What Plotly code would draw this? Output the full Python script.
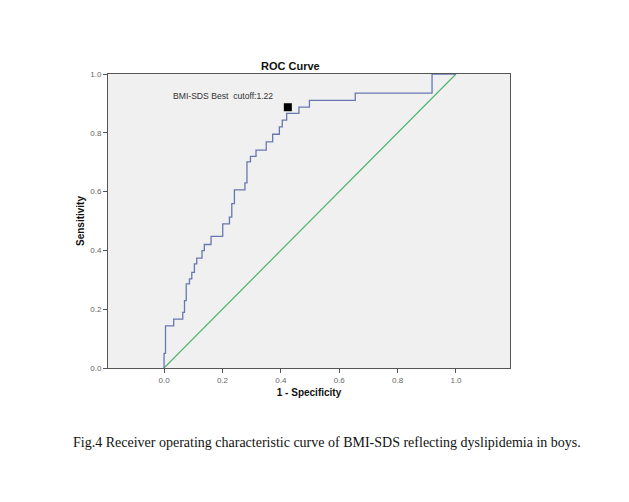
import plotly.graph_objects as go

# ROC curve vertices (staircase)
fpr = [0.0, 0.0, 0.005, 0.005, 0.033, 0.033, 0.064, 0.064, 0.070, 0.070,
       0.076, 0.076, 0.087, 0.087, 0.095, 0.095, 0.104, 0.104, 0.112, 0.112,
       0.130, 0.130, 0.138, 0.138, 0.161, 0.161, 0.201, 0.201, 0.224, 0.224,
       0.232, 0.232, 0.241, 0.241, 0.277, 0.277, 0.284, 0.284, 0.296, 0.296,
       0.315, 0.315, 0.350, 0.350, 0.372, 0.372, 0.395, 0.395, 0.405, 0.405,
       0.420, 0.420, 0.462, 0.462, 0.498, 0.498, 0.655, 0.655, 0.918, 0.918,
       1.0]
tpr = [0.0, 0.050, 0.050, 0.143, 0.143, 0.166, 0.166, 0.189, 0.189, 0.229,
       0.229, 0.286, 0.286, 0.303, 0.303, 0.325, 0.325, 0.354, 0.354, 0.374,
       0.374, 0.399, 0.399, 0.420, 0.420, 0.448, 0.448, 0.490, 0.490, 0.513,
       0.513, 0.559, 0.559, 0.606, 0.606, 0.630, 0.630, 0.701, 0.701, 0.720,
       0.720, 0.741, 0.741, 0.769, 0.769, 0.795, 0.795, 0.820, 0.820, 0.843,
       0.843, 0.866, 0.866, 0.887, 0.887, 0.910, 0.910, 0.935, 0.935, 0.975,
       0.975]
# final rise to 1.0 and run along the top edge
fpr_end = [0.918, 1.0]
tpr_end = [1.0, 1.0]

ref_x = [0.0, 1.0]
ref_y = [0.0, 1.0]

best_x = [0.424]
best_y = [0.887]
best_label = "BMI-SDS Best  cutoff:1.22"

ticks = [0.0, 0.2, 0.4, 0.6, 0.8, 1.0]
tick_text = ["0.0", "0.2", "0.4", "0.6", "0.8", "1.0"]

fig = go.Figure()
fig.add_trace(go.Scatter(x=ref_x, y=ref_y, mode="lines",
                         line=dict(color="#4fb36a", width=1.2), hoverinfo="skip"))
fig.add_trace(go.Scatter(x=fpr[:-1] + fpr_end, y=tpr[:-1] + tpr_end, mode="lines",
                         line=dict(color="#6878b0", width=1.3)))
fig.add_trace(go.Scatter(x=best_x, y=best_y, mode="markers",
                         marker=dict(symbol="square", size=8, color="black")))

fig.add_annotation(x=0.380, y=0.925, xref="x", yref="y", text=best_label,
                   showarrow=False, xanchor="right", yanchor="middle",
                   font=dict(family="Liberation Sans, Arial", size=8.6, color="#333"))

fig.add_annotation(x=0.455, y=1.0, xref="paper", yref="paper", yshift=8,
                   text="<b>ROC Curve</b>", showarrow=False, yanchor="middle",
                   font=dict(family="Liberation Sans, Arial", size=11, color="#111"))

fig.add_annotation(x=0.5, y=-0.255, xref="paper", yref="paper",
                   text="Fig.4 Receiver operating characteristic curve of BMI-SDS reflecting dyslipidemia in boys.",
                   showarrow=False, xanchor="center", yanchor="middle",
                   xshift=18,
                   font=dict(family="Liberation Serif, Times New Roman", size=14, color="#111"))

fig.update_layout(
    width=629, height=502,
    margin=dict(l=100, r=127, t=66, b=142),
    paper_bgcolor="white", plot_bgcolor="#f0f0f0",
    showlegend=False,
    font=dict(family="Liberation Sans, Arial", size=8, color="#555"),
)
fig.update_xaxes(range=[-0.192, 1.185], tickvals=ticks, ticktext=tick_text,
                 showgrid=False, zeroline=False, showline=True, mirror=True,
                 linecolor="#555", linewidth=1, ticks="outside", ticklen=4,
                 tickcolor="#555", tickfont=dict(size=8, color="#666"),
                 title=dict(text="<b>1 - Specificity</b>", standoff=5,
                            font=dict(size=10, color="#111")))
fig.update_yaxes(range=[0, 1.0], tickvals=ticks, ticktext=tick_text,
                 showgrid=False, zeroline=False, showline=True, mirror=True,
                 linecolor="#555", linewidth=1, ticks="outside", ticklen=4,
                 tickcolor="#555", tickfont=dict(size=8, color="#666"),
                 title=dict(text="<b>Sensitivity</b>", standoff=3,
                            font=dict(size=10, color="#111")))

fig.write_html("out.html")
